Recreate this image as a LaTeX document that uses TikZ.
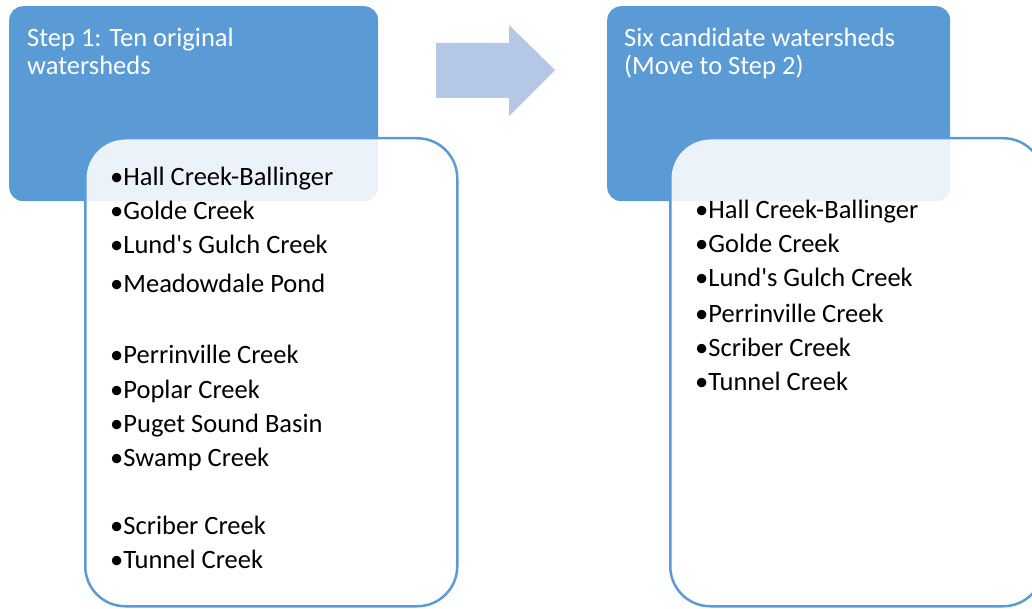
\documentclass[tikz,border=0pt]{standalone}
\usepackage{fontspec}
\setmainfont{Carlito}
\usepackage{tikz}
\usetikzlibrary{positioning}
\definecolor{headblue}{RGB}{91,155,213}
\definecolor{arrowblue}{RGB}{180,199,231}

\tikzset{
  headbox/.style={draw=none,fill=headblue,rounded corners=14pt,anchor=north west,inner sep=0pt},
  headtext/.style={text=white,font=\fontsize{26.5}{28}\selectfont,align=left,anchor=base west,inner sep=0pt},
  listbox/.style={draw=headblue,line width=2.5pt,fill=white,fill opacity=0.88,rounded corners=40pt,anchor=north west,inner sep=0pt},
  item/.style={font=\fontsize{26.5}{28}\selectfont,anchor=base west,inner sep=0pt}
}

\begin{document}
\begin{tikzpicture}[x=1pt,y=-1pt]
  \useasboundingbox (0,0) rectangle (1032,609);
  \clip (0,0) rectangle (1032,609);
  % step 1
  \node[headbox,minimum width=369pt,minimum height=195pt] (head1) at (9,6) {};
  \node[headtext] (title1) at (27,75) {Step 1: Ten original\\watersheds};
  \node[listbox,minimum width=372pt,minimum height=468pt] (list1) at (84,137) {};
  \foreach \y/\name in {186/Hall Creek-Ballinger,220/Golde Creek,254/Lund\textquotesingle s Gulch Creek,292/Meadowdale Pond,
                        363/Perrinville Creek,398/Poplar Creek,432/Puget Sound Basin,466/Swamp Creek,
                        534/Scriber Creek,568/Tunnel Creek}{
    \node[item] (a\y) at (110,\y) {•\name};
  }
  % arrow
  \fill[arrowblue] (436,43) -- (509,43) -- (509,25) -- (555,70) -- (509,116) -- (509,98) -- (436,98) -- cycle;
  % candidates
  \node[headbox,minimum width=343pt,minimum height=195pt] (head2) at (607,6) {};
  \node[headtext] (title2) at (624,75) {Six candidate watersheds\\(Move to Step 2)};
  \node[listbox,minimum width=373pt,minimum height=468pt] (list2) at (669,137) {};
  \foreach \y/\name in {219/Hall Creek-Ballinger,253/Golde Creek,287/Lund\textquotesingle s Gulch Creek,
                        322/Perrinville Creek,356/Scriber Creek,390/Tunnel Creek}{
    \node[item] (b\y) at (695,\y) {•\name};
  }
\end{tikzpicture}
\end{document}
